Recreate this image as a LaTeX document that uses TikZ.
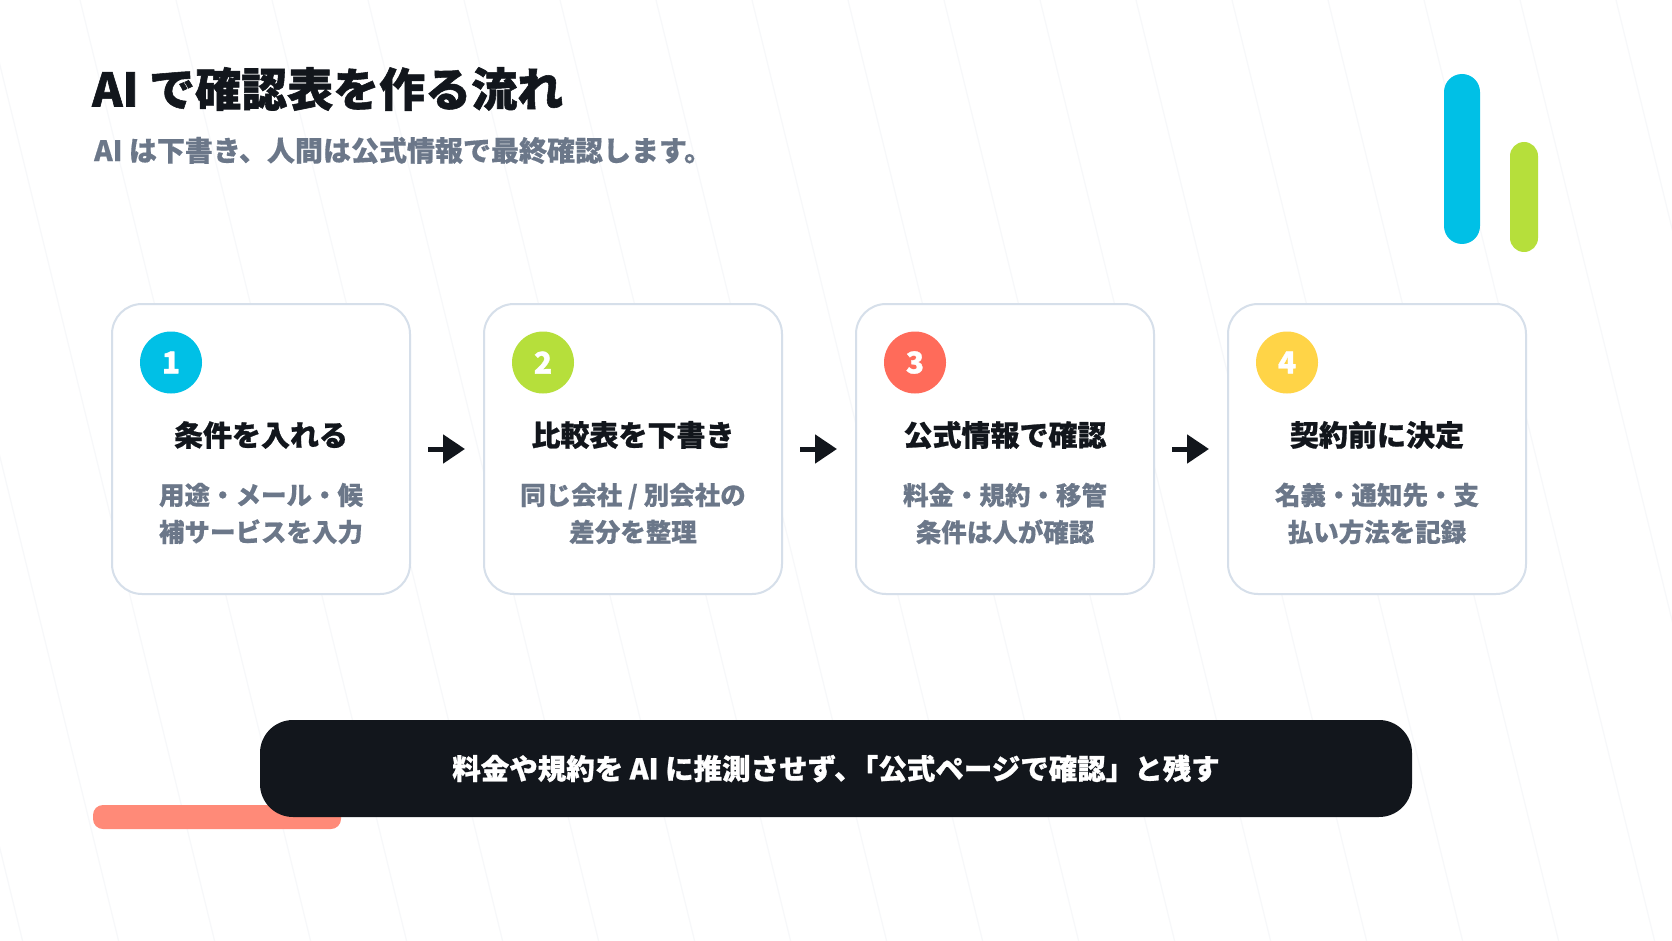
\documentclass[tikz,border=0pt]{standalone}
\usepackage{fontspec}
\setmainfont{Noto Sans CJK JP}
\usetikzlibrary{arrows.meta}
\definecolor{ink}{HTML}{12161C}
\definecolor{muted}{HTML}{6B7789}
\definecolor{edgec}{HTML}{D6DFEA}
\definecolor{cyanc}{HTML}{00C0E6}
\definecolor{limec}{HTML}{B6DF3B}
\definecolor{coralc}{HTML}{FF6B5A}
\definecolor{yellowc}{HTML}{FFD447}
\definecolor{salmonc}{HTML}{FF8A78}
\definecolor{bgline}{HTML}{F7F8FA}
\tikzset{
  card/.style={draw=edgec, line width=2pt, fill=white, rounded corners=30pt,
    minimum width=298pt, minimum height=290pt, inner sep=0pt},
  badge/.style={circle, minimum size=62pt, inner sep=0pt, text=white,
    font=\fontsize{30}{30}\selectfont\bfseries\addfontfeature{FakeBold=1}},
  headtxt/.style={text=ink, inner sep=0pt, font=\fontsize{29}{30}\selectfont\bfseries\addfontfeature{FakeBold=0.8}},
  desctxt/.style={text=muted, inner sep=0pt, align=center,
    font=\fontsize{25.5}{37}\selectfont\bfseries\addfontfeature{FakeBold=0.4}},
  flowarrow/.style={draw=ink, line width=5pt, -{Triangle[length=22pt,width=28pt]},
    shorten <=17pt, shorten >=18pt},
}
\newcommand\stepcard[7]{%
  \node[card] (b#1) at (#2,449) {};
  \node[badge, fill=#3] (n#1) at (#2-90,362.5) {#4};
  \node[headtxt] (h#1) at (#2,435) {#5};
  \node[desctxt] (d#1) at (#2,513.5) {#6\\#7};
}
\begin{document}
\begin{tikzpicture}[x=1pt,y=-1pt]
\useasboundingbox (0,0) rectangle (1672,941);
\fill[white] (0,0) rectangle (1672,941);
\begin{scope}
\clip (0,0) rectangle (1672,941);
\foreach \k in {-3,...,17}{
  \draw[bgline, line width=1.2pt] (80+96*\k,0) -- (80+96*\k+230.6,941);
}
\end{scope}

% title
\node[anchor=west, inner sep=0pt, text=ink, font=\fontsize{46}{50}\selectfont\bfseries\addfontfeature{FakeBold=1.2}] (title) at (92,89) {AI で確認表を作る流れ};
\node[anchor=west, inner sep=0pt, text=muted, font=\fontsize{28}{30}\selectfont\bfseries\addfontfeature{FakeBold=0.4}] (sub) at (94,150.5) {AI は下書き、人間は公式情報で最終確認します。};

% decorative bars
\fill[cyanc, rounded corners=18pt] (1444,74) rectangle (1480,244);
\fill[limec, rounded corners=14pt] (1510,142) rectangle (1538,252);

% cards
\stepcard{1}{261}{cyanc}{1}{条件を入れる}{用途・メール・候}{補サービスを入力}
\stepcard{2}{633}{limec}{2}{比較表を下書き}{同じ会社 / 別会社の}{差分を整理}
\stepcard{3}{1005}{coralc}{3}{公式情報で確認}{料金・規約・移管}{条件は人が確認}
\stepcard{4}{1377}{yellowc}{4}{契約前に決定}{名義・通知先・支}{払い方法を記録}

\draw[flowarrow] (b1) -- (b2);
\draw[flowarrow] (b2) -- (b3);
\draw[flowarrow] (b3) -- (b4);

% bottom note
\fill[salmonc, rounded corners=10pt] (93,805) rectangle (341,829);
\node[fill=ink, rounded corners=33pt, minimum width=1152pt, minimum height=97pt, inner sep=0pt,
  text=white, font=\fontsize{28.5}{30}\selectfont\bfseries\addfontfeature{FakeBold=0.8}] (note) at (836,768.5)
  {料金や規約を AI に推測させず、\kern-0.45em「公式ページで確認」と残す};
\end{tikzpicture}
\end{document}
